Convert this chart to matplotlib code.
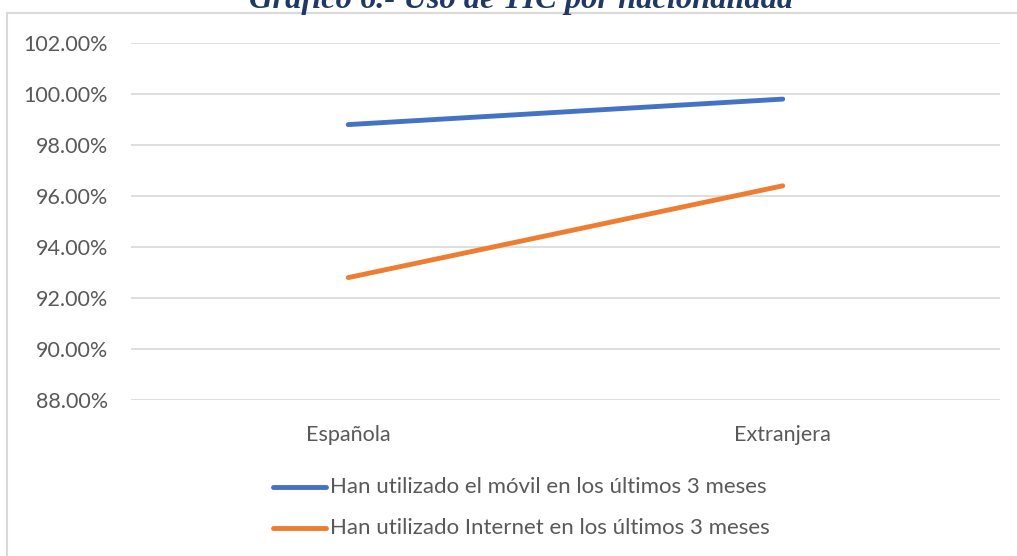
import matplotlib.pyplot as plt
from matplotlib.lines import Line2D
from matplotlib.ticker import FuncFormatter

# Datos
categorias = ['Española', 'Extranjera']
movil = [98.8, 99.8]
internet = [92.8, 96.4]
series_labels = ['Han utilizado el móvil en los últimos 3 meses',
                 'Han utilizado Internet en los últimos 3 meses']
yticks = [88, 90, 92, 94, 96, 98, 100, 102]

azul = '#4472C4'
naranja = '#ED7D31'
gris = '#595959'

plt.rcParams['font.family'] = ['Lato', 'DejaVu Sans']

fig = plt.figure(figsize=(10.17, 5.56), dpi=100)
W, H = 1017, 556

# marco del gráfico (solo se ven borde superior e izquierdo)
fig.add_artist(Line2D([7 / W, 1], [1 - 13 / H, 1 - 13 / H], color='#D9D9D9', lw=1.5))
fig.add_artist(Line2D([7 / W, 7 / W], [0, 1 - 13 / H], color='#D9D9D9', lw=1.5))

# título cortado en la parte superior, como en el original
fig.text(0.512, 1 - 8 / H, 'Gráfico 6.- Uso de TIC por nacionalidad', ha='center', va='baseline',
         fontsize=23.4, fontweight='bold', fontstyle='italic', color='#1F3864',
         family='Liberation Serif')

ax = fig.add_axes([131 / W, 1 - 400 / H, (1000 - 131) / W, (400 - 43) / H])
x = range(len(categorias))
ax.plot(x, movil, color=azul, lw=3.5, solid_capstyle='round')
ax.plot(x, internet, color=naranja, lw=3.5, solid_capstyle='round')
ax.set_xlim(-0.5, 1.5)
ax.set_ylim(88, 102)
ax.set_yticks(yticks)
ax.yaxis.set_major_formatter(FuncFormatter(lambda v, p: f'{v:.2f}%'))
ax.set_xticks(list(x))
ax.set_xticklabels(categorias)
ax.grid(axis='y', color='#D9D9D9', lw=1.2)
ax.set_axisbelow(True)
for s in ax.spines.values():
    s.set_visible(False)
ax.tick_params(length=0, labelsize=15.5, labelcolor=gris)
ax.tick_params(axis='y', pad=16.5)
ax.tick_params(axis='x', pad=18)

# leyenda
for i, (lab, col) in enumerate(zip(series_labels, [azul, naranja])):
    yy = 1 - (487 + 41 * i) / H
    fig.add_artist(Line2D([273 / W, 326 / W], [yy, yy], color=col, lw=3.5, solid_capstyle='round'))
    fig.text(330 / W, yy, lab, ha='left', va='center', fontsize=16, color=gris)

fig.savefig('out.png', dpi=100)
